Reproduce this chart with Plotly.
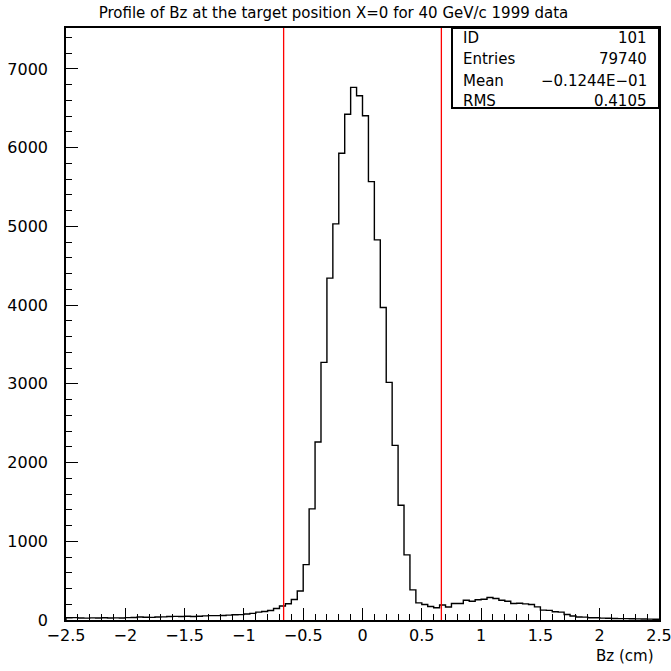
import plotly.graph_objects as go

# ---- data ----
x_min = -2.5
bin_width = 0.05
counts = [
    28, 30, 26, 24, 27, 25, 28, 26, 27, 26,
    30, 32, 38, 35, 33, 38, 40, 44, 46, 45,
    47, 45, 48, 52, 55, 56, 58, 62, 66, 68,
    76, 84, 100, 108, 120, 146, 178, 206, 260, 368,
    704, 1411, 2261, 3272, 4343, 5032, 5929, 6424, 6766, 6660,
    6406, 5569, 4829, 3970, 3018, 2218, 1457, 827, 383, 218,
    197, 171, 155, 190, 165, 209, 209, 250, 239, 258,
    264, 286, 273, 251, 239, 209, 213, 205, 197, 167,
    125, 122, 104, 100, 70, 50, 38, 36, 28, 28,
    24, 22, 20, 18, 17, 15, 14, 12, 11, 10,
]
cut_lines = [-0.665, 0.665]
title_text = "Profile of Bz at the target position X=0 for 40 GeV/c 1999 data"
stats_labels = ["ID", "Entries", "Mean", "RMS"]
stats_values = ["101", "79740", "\u22120.1244E\u221201", "0.4105"]
x_ticks = [-2.5, -2, -1.5, -1, -0.5, 0, 0.5, 1, 1.5, 2, 2.5]
y_ticks = [0, 1000, 2000, 3000, 4000, 5000, 6000, 7000]
y_max = 7520

# ---- build step outline ----
n = len(counts)
edges = [x_min + i * bin_width for i in range(n + 1)]
xs = [edges[0]] + edges
ys = [0] + counts + [counts[-1]]
xs.append(edges[-1])
ys.append(0)

FONT = "DejaVu Sans"

fig = go.Figure()
fig.add_trace(go.Scatter(
    x=xs, y=ys, mode="lines", line=dict(color="black", width=1.4, shape="hv"),
    showlegend=False, hoverinfo="skip"))

for c in cut_lines:
    fig.add_trace(go.Scatter(
        x=[c, c], y=[0, y_max], mode="lines",
        line=dict(color="#ff0000", width=1.3), showlegend=False, hoverinfo="skip"))

# stats box
box_x0 = (452 - 66) / 593
box_y0 = (620 - 108) / 592
fig.add_shape(type="rect", xref="paper", yref="paper", x0=box_x0, x1=1.0,
              y0=box_y0, y1=1.0, line=dict(color="black", width=2),
              fillcolor="white", layer="above")
rows_y = [38, 59, 80.5, 101]
for lab, val, yy in zip(stats_labels, stats_values, rows_y):
    py = (620 - yy) / 592
    fig.add_annotation(x=(461 - 66) / 593, y=py, xref="paper", yref="paper",
                       text=lab, showarrow=False, xanchor="left", yanchor="middle",
                       font=dict(family=FONT, size=15, color="black"))
    fig.add_annotation(x=(649 - 66) / 593, y=py, xref="paper", yref="paper",
                       text=val, showarrow=False, xanchor="right", yanchor="middle",
                       font=dict(family=FONT, size=15, color="black"))

# axis title
fig.add_annotation(x=(656 - 66) / 593, y=(620 - 656) / 592, xref="paper", yref="paper",
                   text="Bz (cm)", showarrow=False, xanchor="right", yanchor="middle",
                   font=dict(family=FONT, size=15, color="black"))

fig.update_layout(
    width=671, height=671,
    margin=dict(l=66, r=12, t=28, b=51, autoexpand=False),
    paper_bgcolor="white", plot_bgcolor="white",
    title=dict(text=title_text, x=0.497, xref="container", y=1 - 13 / 671,
               yref="container", xanchor="center", yanchor="middle",
               font=dict(family=FONT, size=15, color="black")),
    showlegend=False,
)
fig.update_xaxes(
    range=[-2.5, 2.5], tickvals=x_ticks, ticks="inside", ticklen=12, tickwidth=1,
    tickcolor="black", showline=True, linecolor="black", linewidth=1.5, mirror=True,
    showgrid=False, zeroline=False, automargin=False, ticklabeloverflow="allow",
    minor=dict(ticks="inside", ticklen=6, dtick=0.1, tick0=0, tickcolor="black", showgrid=False),
    tickfont=dict(family=FONT, size=16, color="black"),
)
fig.update_yaxes(
    range=[0, y_max], tickvals=y_ticks, ticks="inside", ticklen=12, tickwidth=1,
    tickcolor="black", showline=True, linecolor="black", linewidth=1.5, mirror=True,
    showgrid=False, zeroline=False, automargin=False, ticklabeloverflow="allow",
    minor=dict(ticks="inside", ticklen=6, dtick=200, tick0=0, tickcolor="black", showgrid=False),
    tickfont=dict(family=FONT, size=16, color="black"), ticklabelstandoff=13,
)

fig.write_html("out.html")
